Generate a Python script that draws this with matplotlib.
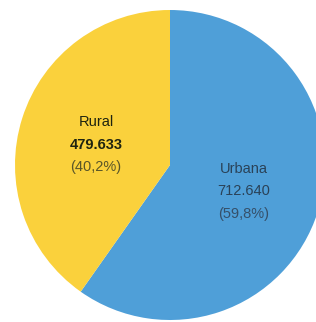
import numpy as np
import matplotlib.pyplot as plt

categories = ["Urbana", "Rural"]
values = [712640, 479633]
value_labels = ["712.640", "479.633"]
pct_labels = ["(59,8%)", "(40,2%)"]
colors = ["#4f9fd8", "#fad13c"]

plt.rcParams['font.family'] = ['Liberation Sans', 'DejaVu Sans']

fig = plt.figure(figsize=(3.16, 3.22), dpi=100)
ax = fig.add_axes([0, 0, 1, 1])

wedges, _ = ax.pie(values, colors=colors, startangle=90, counterclock=False,
                   wedgeprops=dict(linewidth=0), center=(0, 0), radius=1)

# pie centre sits at pixel (170,165), radius 155 px
ax.set_xlim(-170 / 155, (316 - 170) / 155)
ax.set_ylim((165 - 322) / 155, 165 / 155)
ax.set_aspect('auto')
ax.axis('off')

text_colors = ["#2a4258", "#1f2410"]
pct_colors = ["#35506a", "#5a5628"]
for w, name, val, pct, tc, pc in zip(wedges, categories, value_labels, pct_labels,
                                     text_colors, pct_colors):
    ang = np.deg2rad((w.theta1 + w.theta2) / 2)
    x, y = 0.5 * np.cos(ang), 0.5 * np.sin(ang) - 3 / 155
    bold = 'bold' if name == "Rural" else 'normal'
    ax.text(x, y + 22.5 / 155, name, ha='center', va='center', fontsize=10.5, color=tc)
    ax.text(x, y, val, ha='center', va='center', fontsize=10.5, color=tc, fontweight=bold)
    ax.text(x, y - 22.5 / 155, pct, ha='center', va='center', fontsize=10.5, color=pc)

fig.savefig("out.png", dpi=100)
